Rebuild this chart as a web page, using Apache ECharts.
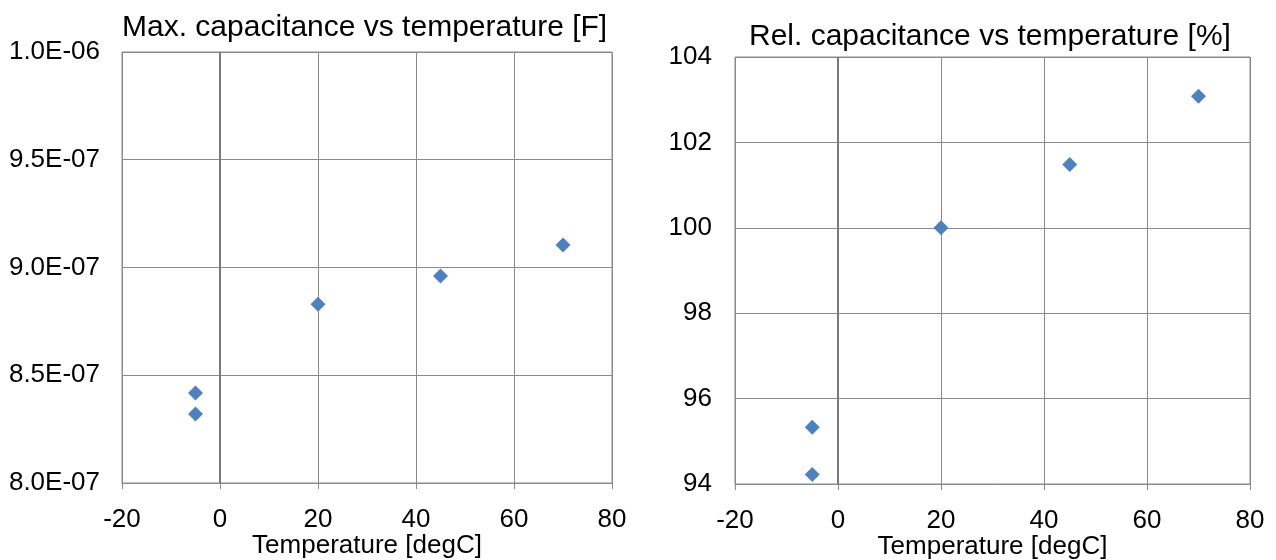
<!DOCTYPE html>
<html>
<head>
<meta charset="utf-8">
<script src="https://cdn.jsdelivr.net/npm/echarts@6/dist/echarts.min.js"></script>
<style>html,body{margin:0;padding:0;background:#fff}#c{width:1276px;height:560px}</style>
</head>
<body>
<div id="c"></div>
<script>
// Data
const temps = [-5, -5, 20, 45, 70];
const maxCap = [8.418e-7, 8.32e-7, 8.83e-7, 8.96e-7, 9.104e-7];
const relCap = [95.33, 94.22, 100.0, 101.48, 103.08];
const titles = ['Max. capacitance vs temperature [F]', 'Rel. capacitance vs temperature [%]'];
const xName = 'Temperature [degC]';

const FONT = '"Liberation Sans", Arial, sans-serif';
const GRID = '#8a8a8a';
const MARK = '#4F81BD';

function expFmt(v) {
  let s = Number(v).toExponential(1);
  let [m, e] = s.split('e');
  let sign = e[0] === '-' ? '-' : '+';
  let d = e.replace(/^[+-]/, '');
  if (d.length < 2) d = '0' + d;
  return m + 'E' + sign + d;
}

function xAxisDef(i) {
  return {
    gridIndex: i, type: 'value', min: -20, max: 80, interval: 20,
    name: xName, nameLocation: 'middle', nameGap: 63, nameMoveOverlap: false,
    nameTextStyle: { fontFamily: FONT, fontSize: 26, color: '#000', verticalAlign: 'middle' },
    axisLine: { show: true, onZero: false, lineStyle: { color: GRID, width: 1 } },
    axisTick: { show: true, inside: false, length: 6, lineStyle: { color: GRID } },
    axisLabel: { fontFamily: FONT, fontSize: 26, color: '#000', margin: 24 },
    splitLine: { show: true, lineStyle: { color: GRID, width: 1 } }
  };
}

const pts1 = temps.map((t, k) => [t, maxCap[k]]);
const pts2 = temps.map((t, k) => [t, relCap[k]]);

const zeroLine = {
  silent: true, symbol: 'none', label: { show: false },
  lineStyle: { color: '#7a7a7a', width: 2, type: 'solid' },
  data: [{ xAxis: 0 }]
};

const option = {
  animation: false,
  backgroundColor: '#fff',
  title: [
    { text: titles[0], left: 117, top: 8, textStyle: { fontFamily: FONT, fontSize: 30, fontWeight: 'normal', color: '#000' } },
    { text: titles[1], left: 744, top: 17, textStyle: { fontFamily: FONT, fontSize: 30, fontWeight: 'normal', color: '#000' } }
  ],
  grid: [
    { left: 122, top: 52, width: 490, height: 431, show: true, borderColor: GRID, borderWidth: 1, containLabel: false, outerBoundsMode: 'none' },
    { left: 735, top: 57, width: 515, height: 427, show: true, borderColor: GRID, borderWidth: 1, containLabel: false, outerBoundsMode: 'none' }
  ],
  xAxis: [xAxisDef(0), xAxisDef(1)],
  yAxis: [
    {
      gridIndex: 0, type: 'value', min: 8.0e-7, max: 1.0e-6, interval: 0.5e-7,
      axisLine: { show: false }, axisTick: { show: false },
      axisLabel: { fontFamily: FONT, fontSize: 26, color: '#000', margin: 22, formatter: expFmt },
      splitLine: { show: true, lineStyle: { color: GRID, width: 1 } }
    },
    {
      gridIndex: 1, type: 'value', min: 94, max: 104, interval: 2,
      axisLine: { show: false }, axisTick: { show: false },
      axisLabel: { fontFamily: FONT, fontSize: 26, color: '#000', margin: 23 },
      splitLine: { show: true, lineStyle: { color: GRID, width: 1 } }
    }
  ],
  series: [
    {
      type: 'scatter', xAxisIndex: 0, yAxisIndex: 0, data: pts1,
      symbol: 'diamond', symbolSize: 15, itemStyle: { color: MARK, opacity: 1 },
      markLine: zeroLine, z: 5
    },
    {
      type: 'scatter', xAxisIndex: 1, yAxisIndex: 1, data: pts2,
      symbol: 'diamond', symbolSize: 15, itemStyle: { color: MARK, opacity: 1 },
      markLine: zeroLine, z: 5
    }
  ]
};

const chart = echarts.init(document.getElementById('c'), null, { renderer: 'canvas' });
chart.setOption(option);
</script>
</body>
</html>
